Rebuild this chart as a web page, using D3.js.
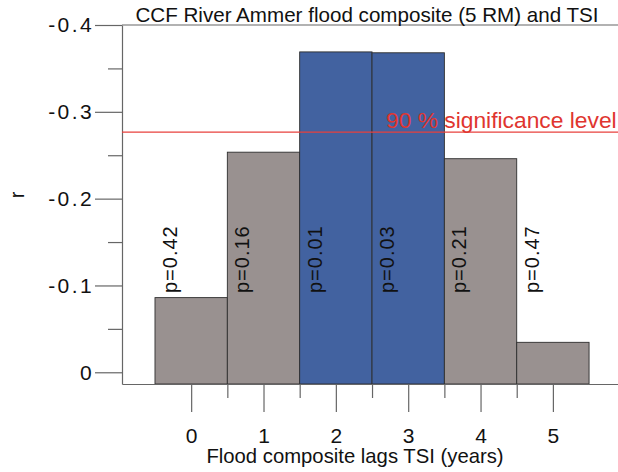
<!DOCTYPE html>
<html>
<head>
<meta charset="utf-8">
<script src="https://cdn.jsdelivr.net/npm/d3@7"></script>
<style>
  body { margin: 0; background: #fff; }
  svg { font-family: "Liberation Sans", Arial, sans-serif; }
</style>
</head>
<body>
<div id="chart"></div>
<script>
// lags (years), correlation r, p-values
var lags = [0, 1, 2, 3, 4, 5];
var rValues = [-0.086, -0.2535, -0.369, -0.368, -0.246, -0.0345];
var pValues = ["0.42", "0.16", "0.01", "0.03", "0.21", "0.47"];
var yTicks = [-0.4, -0.3, -0.2, -0.1, 0];
var yMinorTicks = [-0.35, -0.25, -0.15, -0.05];
var xMinorTicks = [0.5, 1.5, 2.5, 3.5, 4.5];
var sigLevel = -0.2765;

var W = 618, H = 472;
var plotLeft = 122, plotRight = 618, plotTop = 25, plotBottom = 384;

var svg = d3.select("#chart")
    .append("svg")
    .attr("width", W)
    .attr("height", H);

var x = d3.scaleLinear()
    .domain([-0.956, 5.9])
    .range([plotLeft, plotRight]);

// y axis is reversed: -0.4 at the top, bars hang from the bottom of the plot
var y = d3.scaleLinear()
    .domain([0.0135, -0.4])
    .range([plotBottom, plotTop]);

// bars
svg.selectAll(".bar")
    .data(lags)
    .enter()
    .append("rect")
    .attr("class", "bar")
    .attr("x", function(d) { return x(d - 0.5); })
    .attr("width", function(d) { return x(d + 0.5) - x(d - 0.5); })
    .attr("y", function(d, i) { return y(rValues[i]); })
    .attr("height", function(d, i) { return plotBottom - y(rValues[i]); })
    .style("fill", function(d, i) { return +pValues[i] < 0.05 ? "#4262a0" : "#999190"; })
    .style("stroke", "#2e2e2e")
    .style("stroke-width", 0.9);

// p-value labels
svg.selectAll(".plab")
    .data(lags)
    .enter()
    .append("text")
    .attr("class", "plab")
    .attr("transform", function(d) {
        return "translate(" + (x(d - 0.5) + 22) + ",293) rotate(-90)";
    })
    .style("font-size", "20px")
    .style("letter-spacing", "1px")
    .style("fill", "#111")
    .text(function(d, i) { return "p=" + pValues[i]; });

// axes
var yAxis = svg.append("g")
    .attr("transform", "translate(" + plotLeft + ",0)")
    .call(d3.axisLeft(y).tickValues(yTicks).tickSize(27).tickSizeOuter(0).tickPadding(1)
        .tickFormat(function(d) { return d === 0 ? "0" : d3.format(".1f")(d).replace("−", "-"); }));

svg.append("g")
    .attr("transform", "translate(" + plotLeft + ",0)")
    .call(d3.axisLeft(y).tickValues(yMinorTicks).tickSize(14).tickFormat(""))
    .select(".domain").remove();

var xAxis = svg.append("g")
    .attr("transform", "translate(0," + plotBottom + ")")
    .call(d3.axisBottom(x).tickValues(lags).tickSize(28).tickSizeOuter(0).tickPadding(16)
        .tickFormat(d3.format("d")));

svg.append("g")
    .attr("transform", "translate(0," + plotBottom + ")")
    .call(d3.axisBottom(x).tickValues(xMinorTicks).tickSize(14).tickFormat(""))
    .select(".domain").remove();

svg.selectAll(".domain, .tick line")
    .style("stroke", "#666")
    .style("stroke-width", 1.2);

yAxis.selectAll("text")
    .style("font-size", "21px")
    .style("letter-spacing", "2.4px")
    .style("fill", "#111")
    .style("font-family", "Liberation Sans, Arial, sans-serif");

xAxis.selectAll("text")
    .style("font-size", "21px")
    .style("fill", "#111")
    .style("font-family", "Liberation Sans, Arial, sans-serif");

// top frame line
svg.append("line")
    .attr("x1", plotLeft).attr("x2", plotRight)
    .attr("y1", plotTop).attr("y2", plotTop)
    .style("stroke", "#666")
    .style("stroke-width", 1.2);

// significance line
svg.append("line")
    .attr("x1", plotLeft).attr("x2", plotRight)
    .attr("y1", y(sigLevel)).attr("y2", y(sigLevel))
    .style("stroke", "#e8403c")
    .style("stroke-width", 1.2);

svg.append("text")
    .attr("x", 386)
    .attr("y", y(sigLevel) - 4)
    .style("font-size", "22.8px")
    .style("fill", "#e0352f")
    .text("90 % significance level");

// titles
svg.append("text")
    .attr("x", 367)
    .attr("y", 22)
    .attr("text-anchor", "middle")
    .style("font-size", "20.6px")
    .style("fill", "#111")
    .text("CCF River Ammer flood composite (5 RM) and TSI");

svg.append("text")
    .attr("x", 355)
    .attr("y", 463)
    .attr("text-anchor", "middle")
    .style("font-size", "20.3px")
    .style("fill", "#111")
    .text("Flood composite lags TSI (years)");

svg.append("text")
    .attr("transform", "translate(24,195) rotate(-90)")
    .attr("text-anchor", "middle")
    .style("font-size", "20px")
    .style("fill", "#111")
    .text("r");
</script>
</body>
</html>
